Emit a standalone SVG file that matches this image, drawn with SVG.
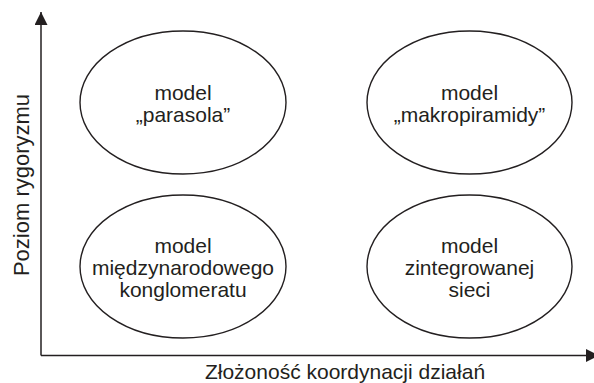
<svg xmlns="http://www.w3.org/2000/svg" width="594" height="383" viewBox="0 0 594 383">
<style>
.e{fill:none;stroke:#231f20;stroke-width:1.4}
.ax{fill:none;stroke:#231f20;stroke-width:1.5}
text{font-family:"Liberation Sans",Arial,sans-serif;font-size:21px;fill:#231f20;text-anchor:middle}
</style>
<defs>
<marker id="ah" viewBox="0 0 13 13" refX="13" refY="6.5" markerWidth="13" markerHeight="13" markerUnits="userSpaceOnUse" orient="auto">
<path d="M0,0 L13,6.5 L0,13 Z" fill="#231f20"/>
</marker>
</defs>
<rect width="594" height="383" fill="#fff"/>
<g id="connectors">
<line class="ax" x1="41" y1="355.5" x2="41" y2="12" marker-end="url(#ah)"/>
<line class="ax" x1="41" y1="355.5" x2="599" y2="355.5" marker-end="url(#ah)"/>
</g>
<g id="parasol">
<ellipse class="e" cx="183" cy="102.5" rx="103" ry="71.5"/>
<text x="183" y="100">model</text>
<text x="183" y="122">„parasola”</text>
</g>
<g id="makropiramida">
<ellipse class="e" cx="469.5" cy="102.5" rx="102.5" ry="71.5"/>
<text x="469.5" y="100">model</text>
<text x="469.5" y="122">„makropiramidy”</text>
</g>
<g id="konglomerat">
<ellipse class="e" cx="183" cy="266.5" rx="103" ry="71.5"/>
<text x="183" y="253">model</text>
<text x="183" y="275">międzynarodowego</text>
<text x="183" y="297">konglomeratu</text>
</g>
<g id="siec">
<ellipse class="e" cx="469.5" cy="266.5" rx="102.5" ry="71.5"/>
<text x="469.5" y="253">model</text>
<text x="469.5" y="275">zintegrowanej</text>
<text x="469.5" y="297">sieci</text>
</g>
<g id="labels">
<text transform="translate(29,185) rotate(-90)" style="font-size:22px">Poziom rygoryzmu</text>
<text x="345" y="379">Złożoność koordynacji działań</text>
</g>
</svg>
